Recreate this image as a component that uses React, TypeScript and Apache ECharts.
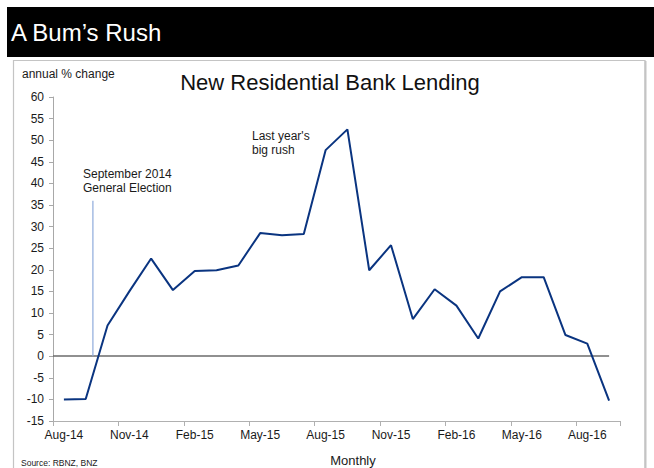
import React, { useEffect, useRef } from "react";
import * as echarts from "echarts";

const months = [
  "Aug-14", "Sep-14", "Oct-14", "Nov-14", "Dec-14", "Jan-15", "Feb-15", "Mar-15", "Apr-15",
  "May-15", "Jun-15", "Jul-15", "Aug-15", "Sep-15", "Oct-15", "Nov-15", "Dec-15", "Jan-16",
  "Feb-16", "Mar-16", "Apr-16", "May-16", "Jun-16", "Jul-16", "Aug-16", "Sep-16",
];
const lending = [
  -10.0, -9.9, 7.1, 15.0, 22.6, 15.3, 19.7, 19.9, 21.0,
  28.5, 28.0, 28.3, 47.7, 52.5, 19.9, 25.7, 8.6, 15.5,
  11.7, 4.1, 15.0, 18.3, 18.3, 4.9, 2.9, -10.3,
];
const electionPos = 1.83; // in months from start of Aug-14
const electionTop = 36;
const zeroLineSpan = [0, months.length - 0.5];
const yTicks = { min: -15, max: 60, step: 5 };

const FONT = "Liberation Sans, Arial, sans-serif";

export default function App() {
  const ref = useRef<HTMLDivElement>(null);
  useEffect(() => {
    if (!ref.current) return;
    const chart = echarts.init(ref.current, null, { renderer: "svg" });
    chart.setOption({
      animation: false,
      backgroundColor: "#ffffff",
      textStyle: { fontFamily: FONT },
      grid: { left: 53, right: 34, top: 97, bottom: 47, containLabel: false },
      xAxis: [
        {
          type: "category",
          data: months,
          boundaryGap: true,
          axisLine: { show: true, onZero: false, lineStyle: { color: "#b0b0b0", width: 1 } },
          axisTick: { show: true, interval: 2, length: 5, lineStyle: { color: "#b0b0b0" } },
          axisLabel: { interval: 2, color: "#1a1a1a", fontSize: 12, fontFamily: FONT, margin: 8 },
          splitLine: { show: false },
        },
        {
          type: "value",
          min: 0,
          max: months.length,
          show: false,
          axisLine: { onZero: false },
        },
      ],
      yAxis: {
        type: "value",
        min: yTicks.min,
        max: yTicks.max,
        interval: yTicks.step,
        axisLine: { show: true, onZero: false, lineStyle: { color: "#a8a8a8", width: 1 } },
        axisTick: { show: true, length: 4, lineStyle: { color: "#a8a8a8" } },
        axisLabel: { color: "#1a1a1a", fontSize: 12, fontFamily: FONT, margin: 9 },
        splitLine: { show: false },
      },
      series: [
        {
          type: "line",
          name: "New Residential Bank Lending",
          data: lending,
          xAxisIndex: 0,
          symbol: "none",
          lineStyle: { color: "#0a3480", width: 2 },
          z: 5,
        },
        {
          type: "line",
          name: "election",
          xAxisIndex: 1,
          data: [
            [electionPos, 0],
            [electionPos, electionTop],
          ],
          symbol: "none",
          lineStyle: { color: "#8eaadb", width: 1.2 },
          z: 4,
          markLine: {
            silent: true,
            symbol: ["none", "none"],
            label: { show: false },
            lineStyle: { color: "#6b6b6b", width: 1.6, type: "solid" },
            data: [[{ coord: [zeroLineSpan[0], 0] }, { coord: [zeroLineSpan[1], 0] }]],
            z: 3,
          },
        },
      ],
      graphic: [
        { type: "rect", shape: { x: 7, y: 7, width: 647, height: 50 }, style: { fill: "#000000" } },
        {
          type: "text",
          x: 11,
          y: 32,
          style: { text: "A Bum’s Rush", fill: "#ffffff", font: `24px ${FONT}`, textVerticalAlign: "middle" },
        },
        {
          type: "rect",
          shape: { x: 13.5, y: 60.5, width: 631.5, height: 420 },
          style: { fill: "none", stroke: "#c4c4c4", lineWidth: 1.2 },
        },
        {
          type: "line",
          shape: { x1: 645.5, y1: 61, x2: 645.5, y2: 468 },
          style: { stroke: "#c4c4c4", lineWidth: 2 },
        },
        {
          type: "text",
          x: 22,
          y: 74,
          style: { text: "annual % change", fill: "#1a1a1a", font: `12px ${FONT}`, textVerticalAlign: "middle" },
        },
        {
          type: "text",
          x: 330,
          y: 82,
          style: {
            text: "New Residential Bank Lending",
            fill: "#111111",
            font: `22px ${FONT}`,
            textAlign: "center",
            textVerticalAlign: "middle",
          },
        },
        {
          type: "text",
          x: 83,
          y: 167,
          style: {
            text: "September 2014\nGeneral Election",
            fill: "#1a1a1a",
            font: `12px ${FONT}`,
            lineHeight: 14,
          },
        },
        {
          type: "text",
          x: 252,
          y: 129,
          style: {
            text: "Last year's\nbig rush",
            fill: "#1a1a1a",
            font: `12px ${FONT}`,
            lineHeight: 14,
          },
        },
        {
          type: "text",
          x: 353,
          y: 460,
          style: {
            text: "Monthly",
            fill: "#1a1a1a",
            font: `13px ${FONT}`,
            textAlign: "center",
            textVerticalAlign: "middle",
          },
        },
        {
          type: "text",
          x: 21,
          y: 463,
          style: { text: "Source: RBNZ, BNZ", fill: "#1a1a1a", font: `8.5px ${FONT}`, textVerticalAlign: "middle" },
        },
      ],
    });
    return () => chart.dispose();
  }, []);
  return (
    <div
      ref={ref}
      style={{ position: "fixed", left: 0, top: 0, width: 654, height: 468, background: "#fff" }}
    />
  );
}
